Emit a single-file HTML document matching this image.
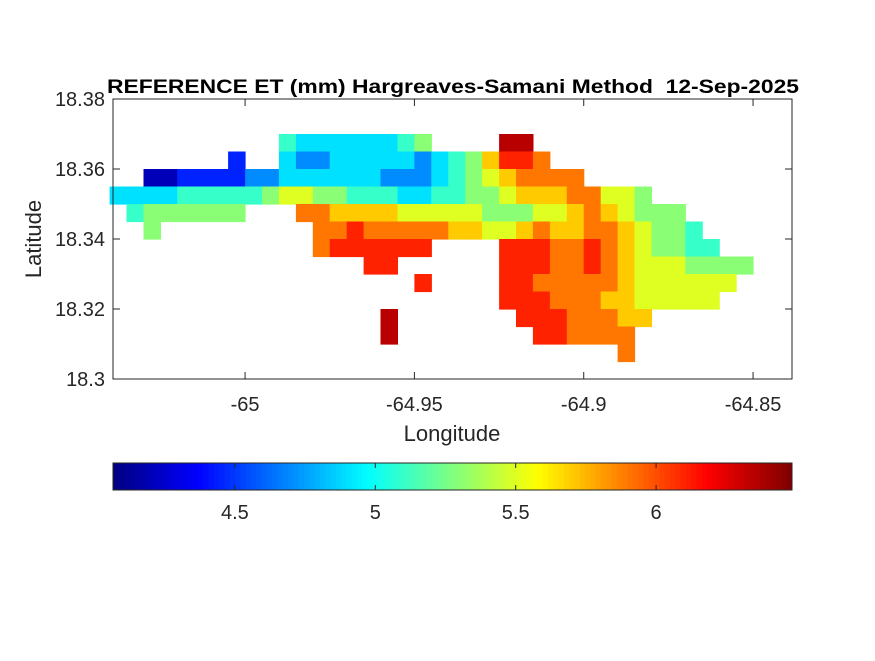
<!DOCTYPE html>
<html><head><meta charset="utf-8"><style>
body{margin:0;background:#fff;}
svg text{font-family:"Liberation Sans",Arial,sans-serif;fill:#262626;}
</style></head><body>
<svg id="chart" width="875" height="656" xmlns="http://www.w3.org/2000/svg">
<rect width="875" height="656" fill="#fff"/>
<text x="453" y="93" text-anchor="middle" font-size="19.5" font-weight="bold" textLength="692" lengthAdjust="spacingAndGlyphs" style="fill:#000">REFERENCE ET (mm) Hargreaves-Samani Method&#160; 12-Sep-2025</text>
<rect x="113" y="99" width="679" height="280" fill="#fff"/>
<g id="cells"></g>
<g id="axes"></g>
<g id="cbar"></g>
</svg>
<script>
// Grid data: rows of [startColumn, level codes]; '.' = no data
const lonStart = -65.04, lonStep = 0.005;
const latTop = 18.375, latStep = 0.005;
const levelValues = {"0":4.2,"1":4.45,"2":4.7,"3":4.9,"4":5.1,"5":5.3,"6":5.5,"7":5.7,"8":5.9,"9":6.1,"a":6.35};
const gridRows = [
 [0,""],
 [10,"433333345....aa"],
 [7,"1..3223333323457998"],
 [2,"00111122333333222345678888"],
 [0,"33334444456655444334455677788665"],
 [1,"4555555...88777766666555667876555"],
 [2,"5.........88988888776678778876554"],
 [12,"8999999....9998898765544"],
 [15,"99......999889876665555"],
 [18,"9....99888887666666"],
 [23,"9998887766666"],
 [16,"a.......99988877"],
 [16,"a........998888"],
 [30,"8"],
 [0,""]
];
const xTicks = [-65,-64.95,-64.9,-64.85];
const xTickLabels = ["-65","-64.95","-64.9","-64.85"];
const yTicks = [18.3,18.32,18.34,18.36,18.38];
const yTickLabels = ["18.3","18.32","18.34","18.36","18.38"];
const cTicks = [4.5,5,5.5,6];
const cTickLabels = ["4.5","5","5.5","6"];

const X0=113,X1=792,Y0=99,Y1=379;
const lonMin=-65.039, lonMax=-64.8385, latMin=18.3, latMax=18.38;
const cMin=4.066, cMax=6.484;
const xs = v => X0 + (v-lonMin)/(lonMax-lonMin)*(X1-X0);
const ys = v => Y1 - (v-latMin)/(latMax-latMin)*(Y1-Y0);
function jet(t){t=Math.max(0,Math.min(1,t));
 const c=a=>Math.round(255*Math.max(0,Math.min(1,1.5-Math.abs(4*t-a))));
 return `rgb(${c(3)},${c(2)},${c(1)})`;}
const col = v => jet((v-cMin)/(cMax-cMin));
const NS="http://www.w3.org/2000/svg";
function mk(tag,attrs,parent){const e=document.createElementNS(NS,tag);for(const k in attrs)e.setAttribute(k,attrs[k]);parent.appendChild(e);return e;}

const cells=document.getElementById('cells');
gridRows.forEach((r,j)=>{
 const start=r[0], s=r[1];
 for(let k=0;k<s.length;k++){
  const ch=s[k]; if(ch==='.')continue;
  const i=start+k, v=levelValues[ch];
  const xa=xs(lonStart+i*lonStep), xb=xs(lonStart+(i+1)*lonStep);
  const ya=ys(latTop-j*latStep), yb=ys(latTop-(j+1)*latStep);
  const e=mk('rect',{x:xa.toFixed(1),y:ya.toFixed(1),width:(xb-xa+0.6).toFixed(1),height:(yb-ya+0.6).toFixed(1),fill:col(v)},cells);
  
  
 }
});

const ax=document.getElementById('axes');
mk('rect',{x:X0,y:Y0,width:X1-X0,height:Y1-Y0,fill:'none',stroke:'#262626','stroke-width':1},ax);
xTicks.forEach((v,i)=>{const x=xs(v);
 mk('line',{x1:x,y1:Y1,x2:x,y2:Y1-7,stroke:'#262626'},ax);
 mk('line',{x1:x,y1:Y0,x2:x,y2:Y0+7,stroke:'#262626'},ax);
 const t=mk('text',{x:x,y:Y1+32,'text-anchor':'middle','font-size':20},ax);t.textContent=xTickLabels[i];
 
 
});
yTicks.forEach((v,i)=>{const y=ys(v);
 mk('line',{x1:X0,y1:y,x2:X0+7,y2:y,stroke:'#262626'},ax);
 mk('line',{x1:X1,y1:y,x2:X1-7,y2:y,stroke:'#262626'},ax);
 const t=mk('text',{x:X0-8,y:y+7,'text-anchor':'end','font-size':20},ax);t.textContent=yTickLabels[i];
 
 
});
let t=mk('text',{x:452,y:441,'text-anchor':'middle','font-size':22},ax);t.textContent='Longitude';


t=mk('text',{x:41,y:239,'text-anchor':'middle','font-size':22,transform:'rotate(-90 41 239)'},ax);t.textContent='Latitude';



const cb=document.getElementById('cbar');
const CX0=113,CX1=792,CY0=463,CY1=490;
const N=128;
for(let k=0;k<N;k++){const xa=CX0+k*(CX1-CX0)/N;
 mk('rect',{x:xa,y:CY0,width:(CX1-CX0)/N+0.5,height:CY1-CY0,fill:jet((k+0.5)/N)},cb);}
mk('rect',{x:CX0,y:CY0,width:CX1-CX0,height:CY1-CY0,fill:'none',stroke:'#262626'},cb);
const cs=v=>CX0+(v-cMin)/(cMax-cMin)*(CX1-CX0);
cTicks.forEach((v,i)=>{const x=cs(v);
 mk('line',{x1:x,y1:CY1,x2:x,y2:CY1-5,stroke:'#262626'},cb);
 mk('line',{x1:x,y1:CY0,x2:x,y2:CY0+5,stroke:'#262626'},cb);
 const tt=mk('text',{x:x,y:519,'text-anchor':'middle','font-size':20},cb);tt.textContent=cTickLabels[i];
 
 
});
</script>
</body></html>
